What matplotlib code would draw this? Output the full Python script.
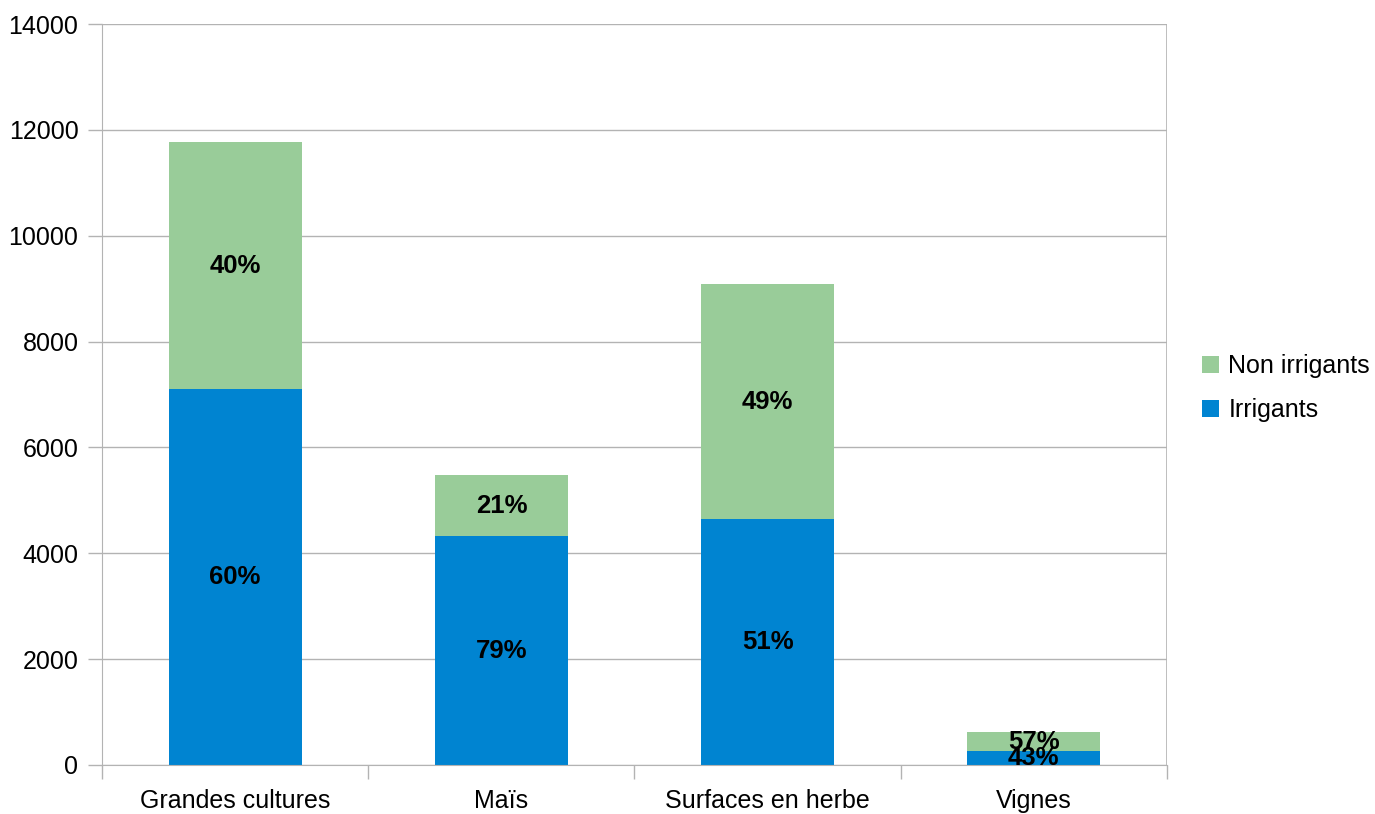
import matplotlib
matplotlib.use('Agg')
import matplotlib.pyplot as plt
import numpy as np

plt.rcParams['font.family'] = ['Liberation Sans', 'DejaVu Sans']

categories = ['Grandes cultures', 'Maïs', 'Surfaces en herbe', 'Vignes']
irrigants = [7100, 4325, 4645, 262]
non_irrigants = [4670, 1155, 4445, 358]
pct_irrigants = ['60%', '79%', '51%', '43%']
pct_non_irrigants = ['40%', '21%', '49%', '57%']

blue = '#0084d1'
green = '#99cc99'
grey = '#b3b3b3'

fig = plt.figure(figsize=(13.75, 8.14), dpi=100)
ax = fig.add_axes([0.0742, 0.0602, 0.7745, 0.9103])

x = np.arange(len(categories))
b1 = ax.bar(x, irrigants, width=0.5, color=blue, label='Irrigants', zorder=2)
b2 = ax.bar(x, non_irrigants, width=0.5, bottom=irrigants, color=green,
            label='Non irrigants', zorder=2)

for i in range(len(categories)):
    ax.text(x[i], irrigants[i] / 2, pct_irrigants[i], ha='center', va='center',
            fontsize=18.5, fontweight='bold', zorder=3)
    ax.text(x[i], irrigants[i] + non_irrigants[i] / 2, pct_non_irrigants[i],
            ha='center', va='center', fontsize=18.5, fontweight='bold', zorder=3)

ax.set_xlim(-0.5, 3.5)
ax.set_ylim(0, 14000)
ax.set_yticks(np.arange(0, 14001, 2000))
ax.yaxis.grid(True, color=grey, linewidth=1, zorder=0)
ax.set_axisbelow(True)

ax.set_xticks(x)
ax.set_xticklabels(categories, fontsize=18)
ax.tick_params(axis='x', length=0, pad=17)
ax.set_xticks(np.arange(-0.5, 4, 1), minor=True)
ax.tick_params(axis='x', which='minor', length=10, color=grey, width=1)
ax.tick_params(axis='y', labelsize=18, length=10, color=grey, width=1, pad=7)

for side in ['top', 'right']:
    ax.spines[side].set_visible(False)
ax.spines['left'].set_color(grey)
ax.spines['bottom'].set_color(grey)
ax.axvline(3.5, color=grey, linewidth=1.2, zorder=1)

leg = fig.legend([b2, b1], ['Non irrigants', 'Irrigants'], loc='center left',
                 bbox_to_anchor=(0.858, 0.523), frameon=False, fontsize=18,
                 handlelength=0.65, handleheight=0.65, handletextpad=0.4,
                 labelspacing=0.8)

fig.savefig('out.png', dpi=100)
